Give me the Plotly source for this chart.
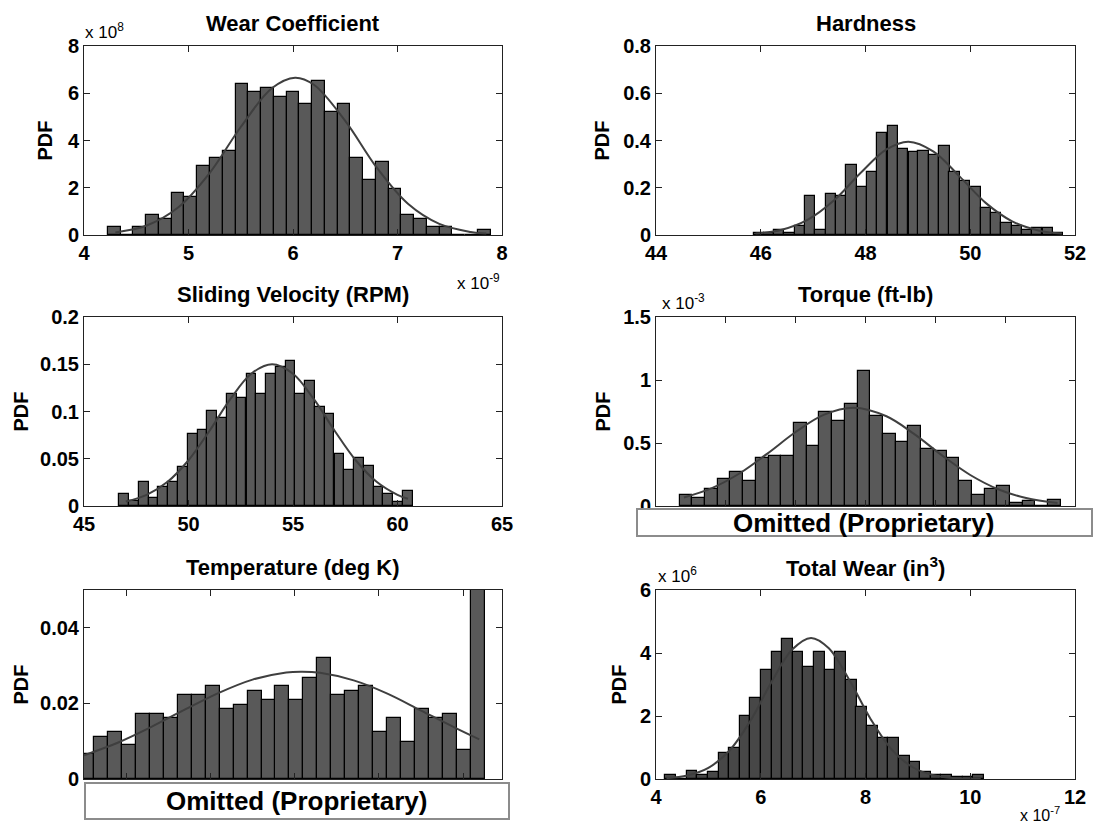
import plotly.graph_objects as go

# The page body has an 8 px margin, so the figure is sized to fit inside it
OFF = 8
FIG_W, FIG_H = 1101 - 2 * OFF, 835 - 2 * OFF

# ---------------- data ----------------
# Wear Coefficient (x in 1e-9, PDF in 1e8)
wear_centers = [4.290, 4.412, 4.534, 4.656, 4.778, 4.900, 5.022, 5.145, 5.267, 5.389,
                5.511, 5.633, 5.755, 5.877, 5.999, 6.121, 6.243, 6.365, 6.487, 6.609,
                6.731, 6.853, 6.975, 7.097, 7.219, 7.341, 7.463, 7.585, 7.707, 7.829]
wear_pdf = [0.35, 0, 0.35, 0.83, 0.66, 1.78, 1.62, 2.94, 3.26, 3.57,
            6.38, 6.06, 6.21, 5.85, 6.06, 5.54, 6.53, 5.21, 5.54, 3.26,
            2.32, 3.09, 1.95, 0.83, 0.66, 0.35, 0.35, 0, 0, 0.2]
wear_fit_x = [4.3, 4.6, 4.9, 5.2, 5.5, 5.8, 6.02, 6.2, 6.5, 6.8, 7.1, 7.4, 7.7, 7.85]
wear_fit_y = [0.11, 0.40, 1.16, 2.61, 4.57, 6.22, 6.66, 6.36, 4.83, 2.86, 1.32, 0.47, 0.13, 0.06]

# Hardness
hard_centers = [45.96, 46.16, 46.35, 46.55, 46.75, 46.94, 47.14, 47.34, 47.54, 47.73,
                47.93, 48.13, 48.32, 48.52, 48.72, 48.92, 49.11, 49.31, 49.51, 49.70,
                49.90, 50.10, 50.30, 50.49, 50.69, 50.89, 51.08, 51.28, 51.48, 51.67]
hard_pdf = [0.01, 0.01, 0.02, 0.01, 0.04, 0.165, 0.02, 0.175, 0.165, 0.295,
            0.205, 0.265, 0.43, 0.46, 0.365, 0.35, 0.355, 0.34, 0.375, 0.265,
            0.23, 0.205, 0.115, 0.095, 0.05, 0.04, 0.02, 0.03, 0.03, 0.01]
hard_fit_x = [45.9, 46.4, 46.9, 47.4, 47.9, 48.4, 48.82, 49.3, 49.8, 50.3, 50.8, 51.3, 51.75]
hard_fit_y = [0.006, 0.022, 0.065, 0.147, 0.261, 0.362, 0.395, 0.353, 0.247, 0.135, 0.058, 0.019, 0.006]

# Sliding Velocity (RPM)
vel_centers = [46.92, 47.39, 47.86, 48.33, 48.79, 49.26, 49.73, 50.20, 50.67, 51.13,
               51.60, 52.07, 52.54, 53.01, 53.47, 53.94, 54.41, 54.88, 55.35, 55.81,
               56.28, 56.75, 57.22, 57.69, 58.15, 58.62, 59.09, 59.56, 60.03, 60.49]
vel_pdf = [0.013, 0.005, 0.0255, 0.008, 0.020, 0.025, 0.0415, 0.076, 0.080, 0.101,
           0.093, 0.119, 0.1145, 0.140, 0.119, 0.140, 0.1475, 0.153, 0.119, 0.132,
           0.105, 0.0975, 0.055, 0.038, 0.051, 0.042, 0.020, 0.0124, 0.004, 0.016]
vel_fit_x = [47, 48, 49, 50, 51, 52, 53, 54, 55, 56, 57, 58, 59, 60, 60.5]
vel_fit_y = [0.0047, 0.0118, 0.0256, 0.0484, 0.0794, 0.113, 0.140, 0.150, 0.140, 0.113,
             0.0794, 0.0484, 0.0256, 0.0118, 0.0076]

# Torque (ft-lb) -- x values omitted (proprietary), relative positions only; PDF in 1e-3
torq_centers = [0.429, 0.611, 0.793, 0.975, 1.157, 1.339, 1.521, 1.703, 1.885, 2.067,
                2.249, 2.431, 2.613, 2.795, 2.977, 3.159, 3.341, 3.523, 3.705, 3.887,
                4.069, 4.251, 4.433, 4.615, 4.797, 4.979, 5.161, 5.343, 5.525, 5.707]
torq_pdf = [0.088, 0.067, 0.137, 0.214, 0.268, 0.200, 0.378, 0.394, 0.394, 0.660,
            0.477, 0.750, 0.678, 0.810, 1.072, 0.718, 0.571, 0.509, 0.638, 0.456,
            0.437, 0.378, 0.200, 0.088, 0.137, 0.155, 0.027, 0.043, 0.0, 0.046]
torq_fit_x = [0.4, 0.8, 1.2, 1.6, 2.0, 2.4, 2.83, 3.3, 3.7, 4.1, 4.5, 4.9, 5.3, 5.75]
torq_fit_y = [0.068, 0.142, 0.260, 0.418, 0.587, 0.723, 0.780, 0.712, 0.570, 0.400,
              0.246, 0.133, 0.063, 0.023]

# Temperature (deg K) -- x values omitted (proprietary), relative positions only
temp_centers = [0.537, 0.703, 0.868, 1.034, 1.199, 1.365, 1.531, 1.696, 1.862, 2.027,
                2.193, 2.359, 2.524, 2.690, 2.855, 3.021, 3.187, 3.352, 3.518, 3.683,
                3.849, 4.015, 4.180, 4.346, 4.511, 4.677, 4.843, 5.008, 5.174]
temp_pdf = [0.0065, 0.0112, 0.0125, 0.0089, 0.0172, 0.0172, 0.0161, 0.0221, 0.0221, 0.0245,
            0.0185, 0.0195, 0.0232, 0.0208, 0.0245, 0.0208, 0.0267, 0.0319, 0.0221, 0.0232,
            0.0245, 0.0125, 0.0161, 0.0098, 0.0185, 0.0161, 0.0172, 0.0076, 0.080]
temp_fit_x = [0.5, 0.9, 1.3, 1.7, 2.1, 2.5, 2.9, 3.09, 3.3, 3.7, 4.1, 4.5, 4.9, 5.19]
temp_fit_y = [0.0063, 0.0096, 0.0138, 0.0184, 0.0228, 0.0263, 0.0282, 0.0284, 0.0281,
              0.0261, 0.0226, 0.0181, 0.0136, 0.0105]

# Total Wear (x in 1e-7, PDF in 1e6)
tw_centers = [4.281, 4.484, 4.687, 4.889, 5.092, 5.295, 5.497, 5.700, 5.903, 6.105,
              6.308, 6.511, 6.713, 6.916, 7.119, 7.321, 7.524, 7.727, 7.929, 8.132,
              8.335, 8.537, 8.740, 8.943, 9.145, 9.348, 9.551, 9.753, 9.956, 10.159]
tw_pdf = [0.12, 0, 0.26, 0.12, 0.21, 0.82, 1.0, 2.0, 2.56, 3.47,
          4.02, 4.43, 4.02, 3.56, 4.02, 3.47, 4.02, 3.15, 2.29, 1.69,
          1.30, 1.30, 0.74, 0.54, 0.21, 0.13, 0.13, 0.06, 0.06, 0.13]
tw_fit_x = [4.2, 4.6, 5.0, 5.4, 5.8, 6.2, 6.6, 6.96, 7.3, 7.7, 8.1, 8.5, 8.9, 9.3, 9.7, 10.2]
tw_fit_y = [0.029, 0.113, 0.354, 0.898, 1.84, 3.06, 4.11, 4.48, 4.15, 3.12, 1.90, 0.935,
            0.373, 0.120, 0.031, 0.004]

# ---------------- layout helpers (screen pixels -> paper fractions) ----------------
def px_x(p):
    return (p - OFF) / FIG_W

def px_y(p):
    return 1 - (p - OFF) / FIG_H

FONT = "Liberation Sans, Arial, Helvetica, sans-serif"
BAR_FILL = "#595959"
LINE_COL = "#222222"

panels = [
    dict(title="Wear Coefficient", c=wear_centers, p=wear_pdf, w=0.1221, fx=wear_fit_x, fy=wear_fit_y,
         box=(84, 502, 46, 235), xr=[4, 8], xt=[4, 5, 6, 7, 8], yr=[0, 8], yt=[0, 2, 4, 6, 8],
         xl=True, col=BAR_FILL, pdfx=45),
    dict(title="Hardness", c=hard_centers, p=hard_pdf, w=0.197, fx=hard_fit_x, fy=hard_fit_y,
         box=(656, 1075, 46, 235), xr=[44, 52], xt=[44, 46, 48, 50, 52], yr=[0, 0.8],
         yt=[0, 0.2, 0.4, 0.6, 0.8], xl=True, col=BAR_FILL, pdfx=602),
    dict(title="Sliding Velocity (RPM)", c=vel_centers, p=vel_pdf, w=0.468, fx=vel_fit_x, fy=vel_fit_y,
         box=(84, 502, 317, 506), xr=[45, 65], xt=[45, 50, 55, 60, 65], yr=[0, 0.2],
         yt=[0, 0.05, 0.1, 0.15, 0.2], xl=True, col=BAR_FILL, pdfx=20),
    dict(title="Torque (ft-lb)", c=torq_centers, p=torq_pdf, w=0.182, fx=torq_fit_x, fy=torq_fit_y,
         box=(656, 1075, 317, 506), xr=[0, 6], xt=[1, 2, 3, 4, 5], yr=[0, 1.5],
         yt=[0, 0.5, 1, 1.5], xl=False, col=BAR_FILL, pdfx=602),
    dict(title="Temperature (deg K)", c=temp_centers, p=temp_pdf, w=0.1656, fx=temp_fit_x, fy=temp_fit_y,
         box=(84, 502, 590, 779), xr=[0.5, 5.46], xt=[1, 2, 3, 4, 5], yr=[0, 0.05],
         yt=[0, 0.02, 0.04], xl=False, col=BAR_FILL, pdfx=20),
    dict(title="Total Wear (in<sup>3</sup>)", c=tw_centers, p=tw_pdf, w=0.2027, fx=tw_fit_x, fy=tw_fit_y,
         box=(656, 1075, 590, 779), xr=[4, 12], xt=[4, 6, 8, 10, 12], yr=[0, 6], yt=[0, 2, 4, 6],
         xl=True, col="#474747", pdfx=618),
]

fig = go.Figure()
annotations = []
shapes = []
layout_axes = {}

for i, pn in enumerate(panels, start=1):
    xa = "x" if i == 1 else f"x{i}"
    ya = "y" if i == 1 else f"y{i}"
    l, r, t, b = pn["box"]
    fig.add_trace(go.Bar(x=pn["c"], y=pn["p"], width=pn["w"], xaxis=xa, yaxis=ya,
                         marker=dict(color=pn["col"], line=dict(color="#000000", width=1.2)),
                         showlegend=False))
    fig.add_trace(go.Scatter(x=pn["fx"], y=pn["fy"], mode="lines", xaxis=xa, yaxis=ya,
                             line=dict(color="#3f3f3f", width=2, shape="spline"),
                             showlegend=False))
    common = dict(showline=True, linecolor=LINE_COL, linewidth=1, mirror="ticks",
                  ticks="inside", ticklen=6, tickcolor=LINE_COL, showgrid=False, zeroline=False,
                  automargin=False,
                  tickfont=dict(family=FONT, size=20, color="#000000", weight="bold"))
    layout_axes["xaxis" if i == 1 else f"xaxis{i}"] = dict(
        domain=[px_x(l), px_x(r)], anchor=ya, range=pn["xr"], tickmode="array",
        tickvals=pn["xt"], showticklabels=pn["xl"], **common)
    layout_axes["yaxis" if i == 1 else f"yaxis{i}"] = dict(
        domain=[px_y(b), px_y(t)], anchor=xa, range=pn["yr"], tickmode="array",
        tickvals=pn["yt"], **common)
    annotations.append(dict(text=pn["title"], x=px_x((l + r) / 2), y=px_y(t - 23),
                            xref="paper", yref="paper", showarrow=False,
                            xanchor="center", yanchor="middle",
                            font=dict(family=FONT, size=22, color="#000000", weight="bold")))
    annotations.append(dict(text="PDF", x=px_x(pn["pdfx"]), y=px_y((t + b) / 2),
                            xref="paper", yref="paper", showarrow=False, textangle=-90,
                            xanchor="center", yanchor="middle",
                            font=dict(family=FONT, size=20, color="#000000", weight="bold")))

fig.update_layout(**layout_axes)

# exponent labels
exp_font = dict(family=FONT, size=17, color="#000000")
for txt, x, y, xa, fs in [("x 10<sup>8</sup>", 83, 31, "left", 17),
                          ("x 10<sup>-9</sup>", 502, 282, "right", 17),
                          ("x 10<sup>-3</sup>", 660, 302, "left", 17),
                          ("x 10<sup>6</sup>", 656, 575, "left", 17),
                          ("x 10<sup>-7</sup>", 1062, 814, "right", 16)]:
    annotations.append(dict(text=txt, x=px_x(x), y=px_y(y), xref="paper", yref="paper",
                            showarrow=False, xanchor=xa, yanchor="middle",
                            font=dict(family=FONT, size=fs, color="#000000")))

# "Omitted (Proprietary)" boxes
for (l, r, t, b) in [(637, 1092, 509, 536), (85, 509, 783, 819)]:
    shapes.append(dict(type="rect", xref="paper", yref="paper", x0=px_x(l), x1=px_x(r),
                       y0=px_y(b), y1=px_y(t), fillcolor="#ffffff",
                       line=dict(color="#8c8c8c", width=2), layer="above"))
    annotations.append(dict(text="Omitted (Proprietary)", x=px_x((l + r) / 2), y=px_y((t + b) / 2),
                            xref="paper", yref="paper", showarrow=False,
                            xanchor="center", yanchor="middle",
                            font=dict(family=FONT, size=26, color="#000000", weight="bold")))

fig.update_layout(width=FIG_W, height=FIG_H, margin=dict(l=0, r=0, t=0, b=0),
                  paper_bgcolor="#ffffff", plot_bgcolor="#ffffff",
                  annotations=annotations, shapes=shapes, bargap=0)

fig.write_html("out.html")
